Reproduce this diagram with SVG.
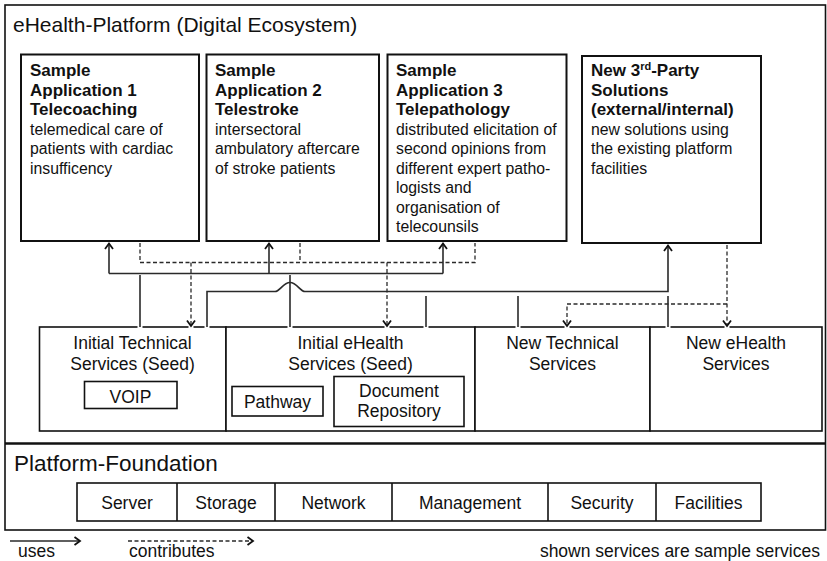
<svg xmlns="http://www.w3.org/2000/svg" width="827" height="561" viewBox="0 0 827 561">
  <style>
    text { font-family: "Liberation Sans", Arial, sans-serif; fill: #111; }
    .title { font-size: 21px; }
    .subtitle { font-size: 22.5px; }
    .head { font-size: 17px; font-weight: bold; }
    .body { font-size: 15.8px; }
    .svc { font-size: 17.5px; text-anchor: middle; }
    .lbl { font-size: 17.5px; }
    .box { fill: #fff; stroke: #111; stroke-width: 2; }
    .cell { fill: #fff; stroke: #111; stroke-width: 1.6; }
    .frame { fill: none; stroke: #111; stroke-width: 1.6; }
    .uses { fill: none; stroke: #2a2a2a; stroke-width: 1.6; }
    .contrib { fill: none; stroke: #2a2a2a; stroke-width: 1.3; stroke-dasharray: 4 2.5; }
    .gap { stroke: #fff; stroke-width: 5; }
  </style>
  <defs>
    <marker id="head" markerWidth="12" markerHeight="12" refX="9" refY="6" orient="auto" markerUnits="userSpaceOnUse">
      <path d="M3.5,2 L9,6 L3.5,10" fill="none" stroke="#111" stroke-width="1.8"/>
    </marker>
  </defs>

  <rect width="827" height="561" fill="#fff"/>

  <!-- platform frame: ecosystem part above, foundation part below -->
  <g id="platform-frame">
    <rect class="frame" x="5" y="5" width="820.5" height="525"/>
    <line x1="5" y1="443.5" x2="825.5" y2="443.5" stroke="#111" stroke-width="2.6"/>
    <text class="title" x="13" y="32">eHealth-Platform (Digital Ecosystem)</text>
  </g>

  <!-- applications -->
  <g id="app-telecoaching">
    <rect class="box" x="21" y="54.5" width="178" height="186.5"/>
    <text class="head" x="30" y="76">Sample</text>
    <text class="head" x="30" y="95.5">Application 1</text>
    <text class="head" x="30" y="115">Telecoaching</text>
    <text class="body" x="30" y="134.5">telemedical care of</text>
    <text class="body" x="30" y="154">patients with cardiac</text>
    <text class="body" x="30" y="173.5">insufficency</text>
  </g>
  <g id="app-telestroke">
    <rect class="box" x="206.5" y="54.5" width="172.5" height="186.5"/>
    <text class="head" x="215" y="76">Sample</text>
    <text class="head" x="215" y="95.5">Application 2</text>
    <text class="head" x="215" y="115">Telestroke</text>
    <text class="body" x="215" y="134.5">intersectoral</text>
    <text class="body" x="215" y="154">ambulatory aftercare</text>
    <text class="body" x="215" y="173.5">of stroke patients</text>
  </g>
  <g id="app-telepathology">
    <rect class="box" x="387.5" y="54.5" width="179" height="186.5"/>
    <text class="head" x="396" y="76">Sample</text>
    <text class="head" x="396" y="95.5">Application 3</text>
    <text class="head" x="396" y="115">Telepathology</text>
    <text class="body" x="396" y="134.5">distributed elicitation of</text>
    <text class="body" x="396" y="154">second opinions from</text>
    <text class="body" x="396" y="173.5">different expert patho-</text>
    <text class="body" x="396" y="193">logists and</text>
    <text class="body" x="396" y="212.5">organisation of</text>
    <text class="body" x="396" y="232">telecounsils</text>
  </g>
  <g id="app-third-party">
    <rect class="box" x="582" y="56" width="179" height="187"/>
    <text class="head" x="591" y="76">New 3<tspan font-size="11" dy="-6">rd</tspan><tspan dy="6">-Party</tspan></text>
    <text class="head" x="591" y="95.5">Solutions</text>
    <text class="head" x="591" y="115">(external/internal)</text>
    <text class="body" x="591" y="134.5">new solutions using</text>
    <text class="body" x="591" y="154">the existing platform</text>
    <text class="body" x="591" y="173.5">facilities</text>
  </g>

  <!-- service layer -->
  <g id="svc-initial-technical">
    <rect class="cell" x="39.5" y="327" width="186.5" height="104"/>
    <text class="svc" x="132.5" y="349">Initial Technical</text>
    <text class="svc" x="132.5" y="370">Services (Seed)</text>
    <rect class="cell" x="84.5" y="381.5" width="92.5" height="27"/>
    <text class="svc" x="130.5" y="403">VOIP</text>
  </g>
  <g id="svc-initial-ehealth">
    <rect class="cell" x="226" y="327" width="249" height="104"/>
    <text class="svc" x="350.5" y="349">Initial eHealth</text>
    <text class="svc" x="350.5" y="370">Services (Seed)</text>
    <rect class="cell" x="232" y="386.5" width="91" height="29.5"/>
    <text class="svc" x="277.5" y="408">Pathway</text>
    <rect class="cell" x="334" y="376.5" width="130" height="50"/>
    <text class="svc" x="399" y="397">Document</text>
    <text class="svc" x="399" y="417">Repository</text>
  </g>
  <g id="svc-new-technical">
    <rect class="cell" x="475" y="327" width="175" height="104"/>
    <text class="svc" x="562.5" y="349">New Technical</text>
    <text class="svc" x="562.5" y="370">Services</text>
  </g>
  <g id="svc-new-ehealth">
    <rect class="cell" x="650" y="327" width="172" height="104"/>
    <text class="svc" x="736" y="349">New eHealth</text>
    <text class="svc" x="736" y="370">Services</text>
  </g>

  <!-- foundation -->
  <g id="platform-foundation">
    <text class="subtitle" x="14" y="470.5">Platform-Foundation</text>
    <rect class="cell" x="77" y="483" width="684" height="38"/>
    <line class="cell" x1="177" y1="483" x2="177" y2="521"/>
    <line class="cell" x1="275" y1="483" x2="275" y2="521"/>
    <line class="cell" x1="392" y1="483" x2="392" y2="521"/>
    <line class="cell" x1="548" y1="483" x2="548" y2="521"/>
    <line class="cell" x1="656" y1="483" x2="656" y2="521"/>
    <text class="svc" x="127" y="509">Server</text>
    <text class="svc" x="226" y="509">Storage</text>
    <text class="svc" x="333.5" y="509">Network</text>
    <text class="svc" x="470" y="509">Management</text>
    <text class="svc" x="602" y="509">Security</text>
    <text class="svc" x="708.5" y="509">Facilities</text>
  </g>

  <!-- connectors -->
  <g id="connectors">
    <!-- light breaks in the service border where lines meet it -->
    <path class="gap" d="M140,324.5 V329 M191,324.5 V329 M207,324.5 V329 M290,324.5 V329 M387,324.5 V329 M426,324.5 V329 M518,324.5 V329 M567,324.5 V329 M668,324.5 V329 M727,324.5 V329"/>
    <!-- uses: seed services towards applications 1-3 -->
    <path class="uses" d="M109,273.5 H443"/>
    <path class="uses" d="M109,273.5 V243.5" marker-end="url(#head)"/>
    <path class="uses" d="M269,273.5 V243.5" marker-end="url(#head)"/>
    <path class="uses" d="M443,273.5 V243.5" marker-end="url(#head)"/>
    <path class="uses" d="M140,327 V275"/>
    <path class="uses" d="M290,327 V275"/>
    <!-- uses: services towards 3rd-party solutions (hops over x=290) -->
    <path class="uses" d="M207,327 V291.5 H275 C280,291.5 283,282.5 290,282.5 C297,282.5 300,291.5 305,291.5 H668 V245.5" marker-end="url(#head)"/>
    <path class="uses" d="M426,327 V296"/>
    <path class="uses" d="M518,327 V296"/>
    <path class="uses" d="M668,327 V296"/>
    <!-- contributes: applications 1-3 to seed services -->
    <path class="contrib" d="M140,243 V262.5 H475 V243"/>
    <path class="contrib" d="M300,243 V262.5"/>
    <path class="contrib" d="M191,262.5 V326" marker-end="url(#head)"/>
    <path class="contrib" d="M387,262.5 V326" marker-end="url(#head)"/>
    <!-- contributes: 3rd-party solutions to new services -->
    <path class="contrib" d="M727,245 V326" marker-end="url(#head)"/>
    <path class="contrib" d="M727,304 H567 V326" marker-end="url(#head)"/>
  </g>

  <!-- legend -->
  <g id="legend">
    <path class="uses" d="M10,541 H80" marker-end="url(#head)"/>
    <path class="contrib" d="M128,541 H253" marker-end="url(#head)"/>
    <text class="lbl" x="18" y="557">uses</text>
    <text class="lbl" x="129" y="557">contributes</text>
    <text class="lbl" x="820" y="557" text-anchor="end">shown services are sample services</text>
  </g>
</svg>
